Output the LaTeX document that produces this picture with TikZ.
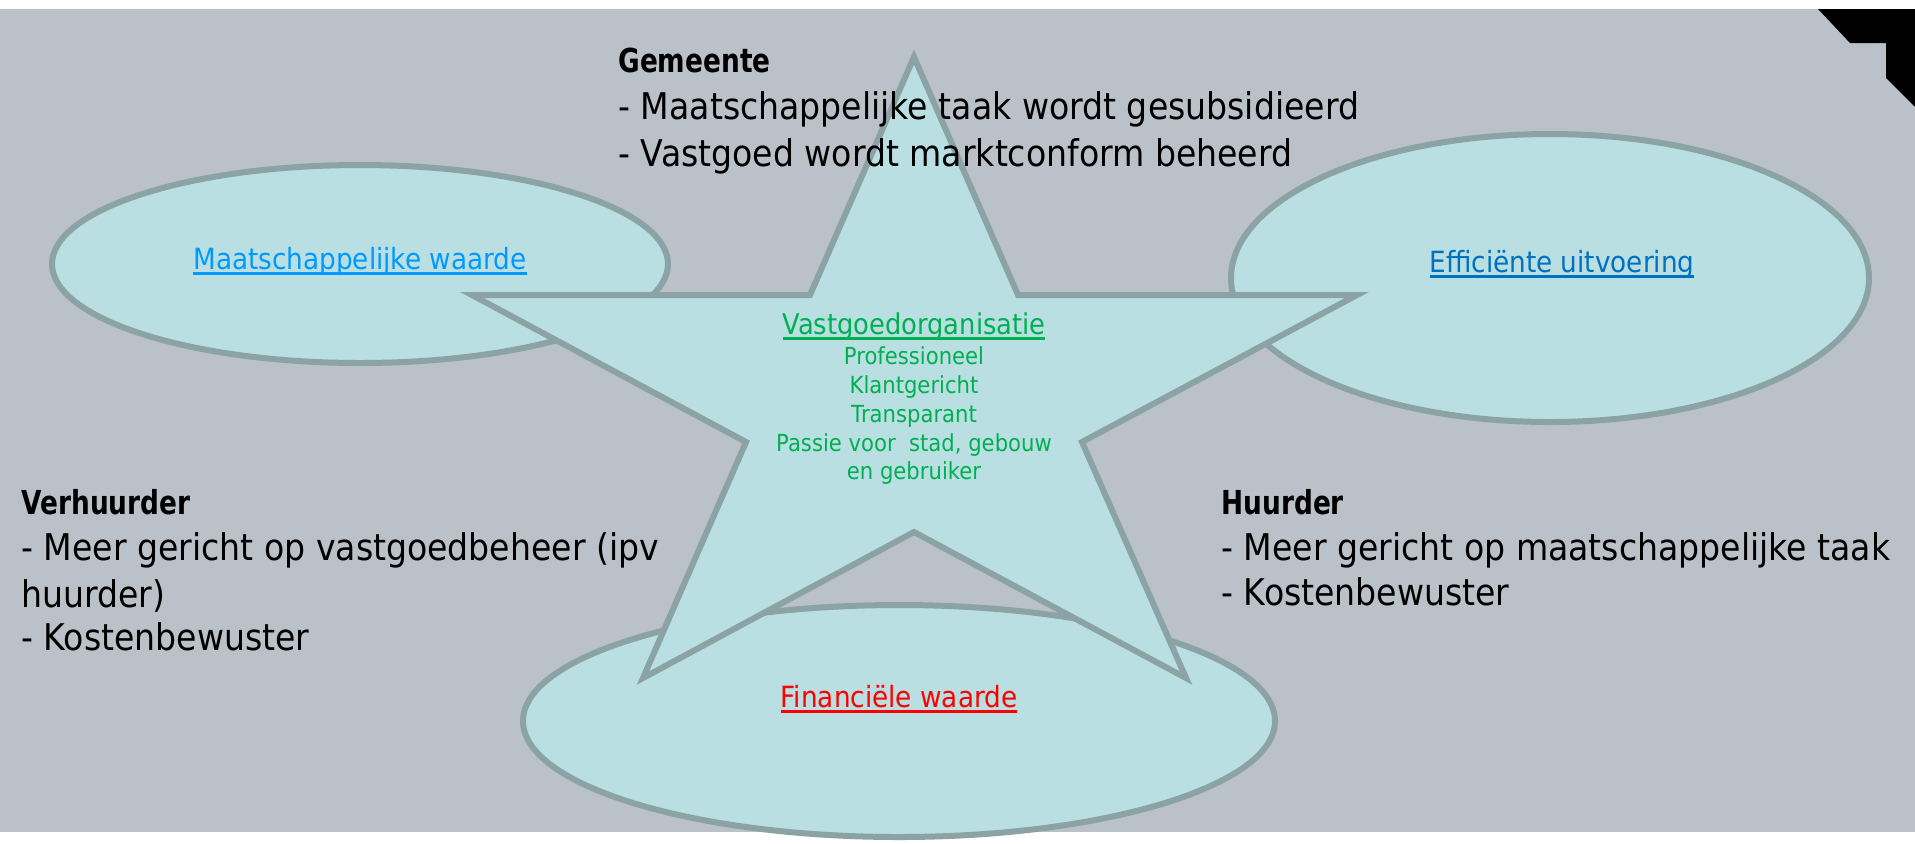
\documentclass[tikz,border=0pt]{standalone}
\usepackage{fontspec}
\setmainfont{DejaVu Sans}[FakeStretch=0.9,BoldFeatures={FakeStretch=0.8}]
\newcommand\myul[1]{\setbox0\hbox{#1}\rlap{\vrule height -0.095em depth 0.205em width \wd0}\box0}
\definecolor{bgc}{RGB}{186,193,200}
\definecolor{shapefill}{RGB}{185,223,227}
\definecolor{shapeline}{RGB}{139,163,164}
\definecolor{greentxt}{RGB}{0,176,80}
\definecolor{lightblue}{RGB}{0,153,255}
\definecolor{darkblue}{RGB}{0,112,192}
\definecolor{redtxt}{RGB}{255,0,0}
\tikzset{
  blob/.style={fill=shapefill, draw=shapeline, line width=3pt},
  bigtxt/.style={anchor=base west, inner sep=0pt, font=\fontsize{18.4}{23}\selectfont},
  headtxt/.style={anchor=base west, inner sep=0pt, font=\fontsize{16.5}{20}\selectfont\bfseries},
  lbltxt/.style={anchor=base, inner sep=0pt, font=\fontsize{14.6}{18}\selectfont},
  startxt/.style={anchor=base, inner sep=0pt, text=greentxt, font=\fontsize{11.75}{14.5}\selectfont}
}
\begin{document}
\begin{tikzpicture}[x=0.5pt,y=-0.5pt]
\useasboundingbox (0,0) rectangle (1915,843);
\fill[white] (0,0) rectangle (1915,843);
\fill[bgc] (0,9) rectangle (1915,832);
\fill[black] (1818,9) -- (1850,43) -- (1886,43) -- (1886,78) -- (1915,107) -- (1915,9) -- cycle;
% ellipses
\path[blob] (360,264) ellipse [x radius=154pt, y radius=49.5pt];
\path[blob] (1550,278) ellipse [x radius=159.5pt, y radius=72pt];
\path[blob] (899,721) ellipse [x radius=188pt, y radius=58pt];
% star
\path[blob, line join=miter] (914,57) -- (1018,295) -- (1357,295) -- (1082,442) -- (1186,678)
  -- (914,532) -- (643,678) -- (746,442) -- (472,295) -- (810,295) -- cycle;
% ellipse labels
\node[lbltxt, text=lightblue] (mw) at (360,269) {\myul{Maatschappelijke waarde}};
\node[lbltxt, text=darkblue] (eu) at (1562,272) {\myul{Efficiënte uitvoering}};
\node[lbltxt, text=redtxt] (fw) at (899,707) {\myul{Financiële waarde}};
% star text
\node[startxt, font=\fontsize{14.3}{17}\selectfont] (vo) at (914,334) {\myul{Vastgoedorganisatie}};
\node[startxt] (s1) at (914,364) {Professioneel};
\node[startxt] (s2) at (914,393) {Klantgericht};
\node[startxt] (s3) at (914,422) {Transparant};
\node[startxt] (s4) at (914,451) {Passie voor\ \ stad, gebouw};
\node[startxt] (s5) at (914,479) {en gebruiker};
% Gemeente
\node[headtxt] (g0) at (618,72) {Gemeente};
\node[bigtxt] (g1) at (618,119) {- Maatschappelijke taak wordt gesubsidieerd};
\node[bigtxt] (g2) at (618,166) {- Vastgoed wordt marktconform beheerd};
% Verhuurder
\node[headtxt] (v0) at (21,514) {Verhuurder};
\node[bigtxt] (v1) at (21,560) {- Meer gericht op vastgoedbeheer (ipv};
\node[bigtxt] (v2) at (21,607) {huurder)};
\node[bigtxt] (v3) at (21,650) {- Kostenbewuster};
% Huurder
\node[headtxt] (h0) at (1221,514) {Huurder};
\node[bigtxt] (h1) at (1221,560) {- Meer gericht op maatschappelijke taak};
\node[bigtxt] (h2) at (1221,605) {- Kostenbewuster};
\end{tikzpicture}
\end{document}
